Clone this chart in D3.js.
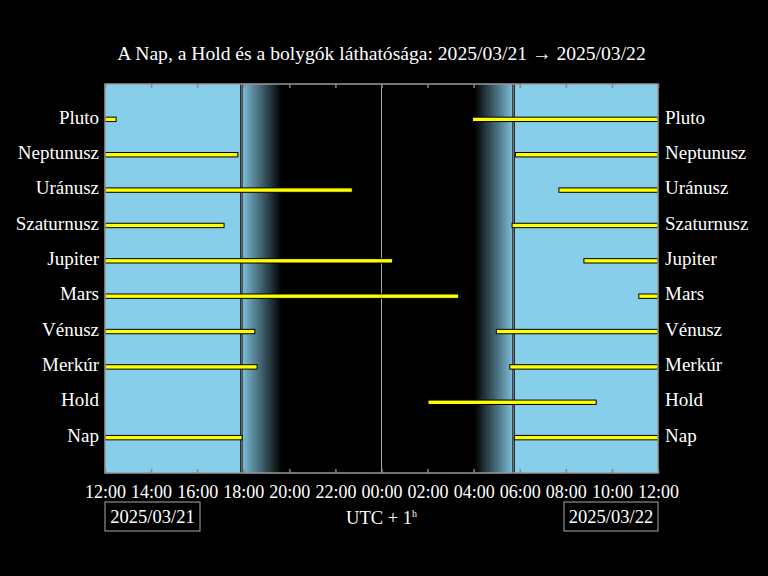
<!DOCTYPE html>
<html>
<head>
<meta charset="utf-8">
<script src="https://cdn.jsdelivr.net/npm/d3@7"></script>
<style>
  html, body { margin: 0; padding: 0; background: #000; }
  svg { display: block; }
  text { font-family: "Liberation Serif", "DejaVu Serif", serif; fill: #fff; }
</style>
</head>
<body>
<script>
// ---- Data ----
const title = "A Nap, a Hold és a bolygók láthatósága: 2025/03/21 \u2192 2025/03/22";
const bodies = ["Pluto","Neptunusz","Uránusz","Szaturnusz","Jupiter","Mars","Vénusz","Merkúr","Hold","Nap"];
// visibility intervals (local time, UTC+1)
const visStart = ["2025-03-21 12:00","2025-03-21 12:00","2025-03-21 12:00","2025-03-21 12:00","2025-03-21 12:00","2025-03-21 12:00","2025-03-21 12:00","2025-03-21 12:00","2025-03-22 02:01","2025-03-21 12:00"];
const visEnd   = ["2025-03-21 12:29","2025-03-21 17:46","2025-03-21 22:44","2025-03-21 17:10","2025-03-22 00:29","2025-03-22 03:21","2025-03-21 18:30","2025-03-21 18:36","2025-03-22 09:19","2025-03-21 17:57"];
const vis2Start = ["2025-03-22 03:57","2025-03-22 05:49","2025-03-22 07:42","2025-03-22 05:40","2025-03-22 08:47","2025-03-22 11:10","2025-03-22 04:59","2025-03-22 05:34",null,"2025-03-22 05:46"];
const vis2End   = ["2025-03-22 12:00","2025-03-22 12:00","2025-03-22 12:00","2025-03-22 12:00","2025-03-22 12:00","2025-03-22 12:00","2025-03-22 12:00","2025-03-22 12:00",null,"2025-03-22 12:00"];
const domainTimes = ["2025-03-21 12:00","2025-03-22 12:00"];
const sunset = "2025-03-21 17:55";
const duskEnd = "2025-03-21 19:40";
const dawnStart = "2025-03-22 04:02";
const sunrise = "2025-03-22 05:44";
const midnight = "2025-03-22 00:00";
const dateLabels = ["2025/03/21","2025/03/22"];
const tzLabel = "UTC + 1";

// ---- Setup ----
const W = 768, H = 576;
const m = {left: 105, right: 110, top: 84, bottom: 103};
const parse = d3.utcParse("%Y-%m-%d %H:%M");
const svg = d3.select("body").append("svg").attr("width", W).attr("height", H);
svg.append("rect").attr("width", W).attr("height", H).attr("fill", "#000");

const x = d3.scaleUtc().domain(domainTimes.map(parse)).range([m.left, W - m.right]);
const y = d3.scalePoint().domain(bodies).range([m.top, H - m.bottom]).padding(1);
const yTop = m.top, yBot = H - m.bottom;

const defs = svg.append("defs");
const gEve = defs.append("linearGradient").attr("id", "eve").attr("x1", 0).attr("x2", 1).attr("y1", 0).attr("y2", 0);
gEve.append("stop").attr("offset", 0).attr("stop-color", "#80c2dd");
gEve.append("stop").attr("offset", 1).attr("stop-color", "#000");
const gMorn = defs.append("linearGradient").attr("id", "morn").attr("x1", 0).attr("x2", 1).attr("y1", 0).attr("y2", 0);
gMorn.append("stop").attr("offset", 0).attr("stop-color", "#000");
gMorn.append("stop").attr("offset", 1).attr("stop-color", "#80c2dd");

// Day regions
svg.append("rect").attr("x", x(parse(domainTimes[0]))).attr("y", yTop)
  .attr("width", x(parse(sunset)) - x(parse(domainTimes[0]))).attr("height", yBot - yTop).attr("fill", "#87ceeb");
svg.append("rect").attr("x", x(parse(sunrise))).attr("y", yTop)
  .attr("width", x(parse(domainTimes[1])) - x(parse(sunrise))).attr("height", yBot - yTop).attr("fill", "#87ceeb");
// Twilight
svg.append("rect").attr("x", x(parse(sunset))).attr("y", yTop)
  .attr("width", x(parse(duskEnd)) - x(parse(sunset))).attr("height", yBot - yTop).attr("fill", "url(#eve)");
svg.append("rect").attr("x", x(parse(dawnStart))).attr("y", yTop)
  .attr("width", x(parse(sunrise)) - x(parse(dawnStart))).attr("height", yBot - yTop).attr("fill", "url(#morn)");

// Midnight line
svg.append("line").attr("x1", x(parse(midnight))).attr("x2", x(parse(midnight)))
  .attr("y1", yTop).attr("y2", yBot).attr("stroke", "#aaa").attr("stroke-width", 1);
// Sunrise/sunset lines
[sunset, sunrise].forEach(t => {
  const xx = x(parse(t));
  svg.append("line").attr("x1", xx).attr("x2", xx).attr("y1", yTop).attr("y2", yBot)
    .attr("stroke", "#111").attr("stroke-width", 2.5);
  svg.append("line").attr("x1", xx).attr("x2", xx).attr("y1", yTop).attr("y2", yBot)
    .attr("stroke", "#777").attr("stroke-width", 1);
});

// Bars
const intervals = [];
bodies.forEach((b, i) => {
  intervals.push({b, s: parse(visStart[i]), e: parse(visEnd[i])});
  if (vis2Start[i]) intervals.push({b, s: parse(vis2Start[i]), e: parse(vis2End[i])});
});
svg.append("g").selectAll("rect").data(intervals).join("rect")
  .attr("x", d => x(d.s)).attr("width", d => x(d.e) - x(d.s))
  .attr("y", d => y(d.b) - 2.2).attr("height", 4.4)
  .attr("fill", "#ffff00").attr("stroke", "#000").attr("stroke-width", 1);

// Frame
svg.append("rect").attr("x", m.left).attr("y", yTop).attr("width", W - m.right - m.left).attr("height", yBot - yTop)
  .attr("fill", "none").attr("stroke", "#999").attr("stroke-width", 1.5);

// Axes ticks (inward) top and bottom
const ticks = x.ticks(d3.utcHour.every(2));
const tickFmt = d3.utcFormat("%H:%M");
svg.append("g").attr("transform", `translate(0,${yBot})`)
  .call(d3.axisBottom(x).tickValues(ticks).tickFormat(tickFmt).tickSize(-4).tickPadding(12))
  .call(g => g.select(".domain").remove())
  .call(g => g.selectAll(".tick line").attr("stroke", "#888").attr("stroke-width", 1.5))
  .call(g => g.selectAll(".tick text").attr("fill", "#fff").attr("font-size", 18)
      .attr("font-family", "Liberation Serif, serif"));
svg.append("g").attr("transform", `translate(0,${yTop})`)
  .call(d3.axisTop(x).tickValues(ticks).tickFormat("").tickSize(-4))
  .call(g => g.select(".domain").remove())
  .call(g => g.selectAll(".tick line").attr("stroke", "#888").attr("stroke-width", 1.5));

// Row labels left and right
svg.append("g").selectAll("text").data(bodies).join("text")
  .attr("x", m.left - 6).attr("y", d => y(d)).attr("dy", "0.22em")
  .attr("text-anchor", "end").attr("font-size", 19).text(d => d);
svg.append("g").selectAll("text").data(bodies).join("text")
  .attr("x", W - m.right + 7).attr("y", d => y(d)).attr("dy", "0.22em")
  .attr("text-anchor", "start").attr("font-size", 19).text(d => d);

// Title
svg.append("text").attr("x", (m.left + W - m.right) / 2).attr("y", 60)
  .attr("text-anchor", "middle").attr("font-size", 19.6).text(title);

// Date boxes
const boxes = [
  {label: dateLabels[0], x0: m.left, x1: m.left + 95},
  {label: dateLabels[1], x0: W - m.right - 94, x1: W - m.right}
];
boxes.forEach(bx => {
  svg.append("rect").attr("x", bx.x0).attr("y", 502).attr("width", bx.x1 - bx.x0).attr("height", 29)
    .attr("fill", "none").attr("stroke", "#aaa").attr("stroke-width", 1);
  svg.append("text").attr("x", (bx.x0 + bx.x1) / 2).attr("y", 523).attr("text-anchor", "middle")
    .attr("font-size", 18.5).text(bx.label);
});
const tz = svg.append("text").attr("x", (m.left + W - m.right) / 2).attr("y", 524)
  .attr("text-anchor", "middle").attr("font-size", 18.5);
tz.append("tspan").text(tzLabel);
tz.append("tspan").attr("font-size", 10).attr("dy", -7).text("h");
</script>
</body>
</html>
